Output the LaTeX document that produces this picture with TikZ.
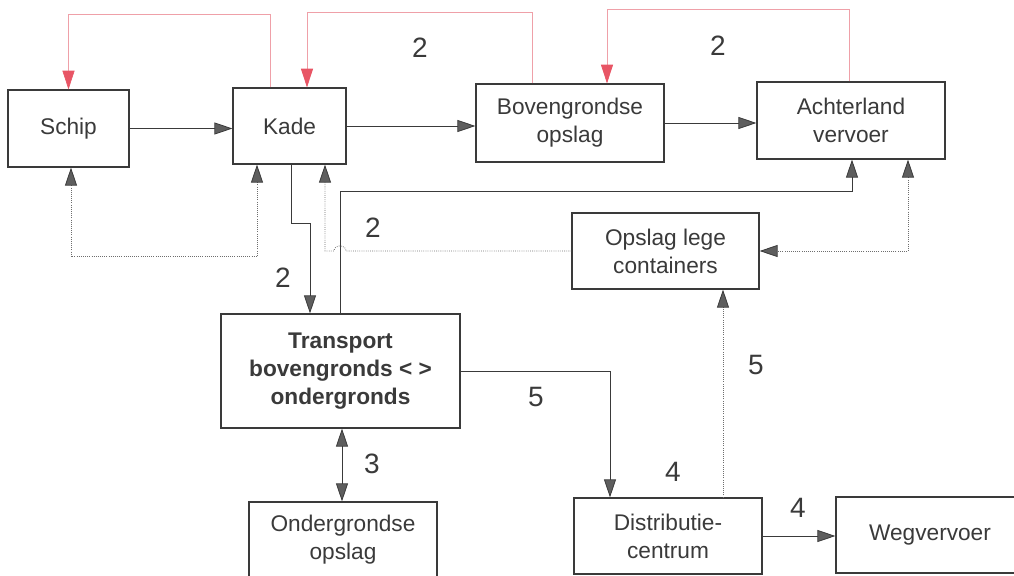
\documentclass[tikz,border=0pt]{standalone}
\usepackage{fontspec}
\setmainfont{Liberation Sans}
\usetikzlibrary{arrows.meta}

\definecolor{ink}{HTML}{3A3A3A}
\definecolor{tipgray}{HTML}{5E5E5E}
\definecolor{dotgray}{HTML}{6E6E6E}
\definecolor{linkred}{HTML}{EFA0A8}
\definecolor{tipred}{HTML}{E85565}

\tikzset{
  gtip/.tip={Triangle[length=13.5pt,width=9pt,color=ink,fill=tipgray]},
  rtip/.tip={Triangle[length=14pt,width=9pt,color=tipred,fill=tipred]},
  box/.style={draw=ink, line width=0.9pt, fill=white, inner sep=0pt,
    align=center, text=ink, font=\fontsize{17}{21}\selectfont},
  sized/.style 2 args={minimum width=#1*0.75pt, minimum height=#2*0.75pt},
  num/.style={text=ink, font=\fontsize{21}{24}\selectfont, inner sep=0pt},
  flow/.style={draw=ink, line width=0.6pt, -gtip},
  flowboth/.style={draw=ink, line width=0.6pt, gtip-gtip},
  back/.style={draw=dotgray, line width=0.6pt, densely dotted, -gtip},
  backboth/.style={draw=dotgray, line width=0.6pt, densely dotted, gtip-gtip},
  info/.style={draw=linkred, line width=0.5pt, -rtip},
}

\begin{document}
\begin{tikzpicture}[x=0.75pt,y=-0.75pt]
\useasboundingbox (0,0) rectangle (1014,575);

% terminal stages
\node[box, sized={121}{77}] (schip) at (68.5,128.5) {Schip};
\node[box, sized={113}{76}] (kade) at (289.5,126) {Kade};
\node[box, sized={188}{78}] (boven) at (570,123) {Bovengrondse\\opslag};
\node[box, sized={188}{77}] (achter) at (851,120.5) {Achterland\\vervoer};
\node[box, sized={187}{76}] (lege) at (665.5,251) {Opslag lege\\containers};
\node[box, sized={239}{114}] (transport) at (340.5,371)
  {\textbf{Transport}\\\textbf{bovengronds < >}\\\textbf{ondergronds}};
\node[box, sized={188}{76}] (onder) at (343,540) {Ondergrondse\\opslag};
\node[box, sized={188}{76}] (distr) at (668,536) {Distributie-\\centrum};
\node[box, sized={188}{76}] (weg) at (930,535) {Wegvervoer};

% main container flow
\draw[flow] (schip.east) -- (schip.east -| kade.west);
\draw[flow] (kade.east) -- (kade.east -| boven.west);
\draw[flow] (boven.east) -- (boven.east -| achter.west);
\draw[flow] (kade.south -| 291,0) -- ++(0,59) -| (transport.north -| 310,0);
\draw[flow] (transport.north -| 340,0) -- ++(0,-122) -| (achter.south -| 852,0);
\draw[flow] (transport.east) -| (distr.north -| 610,0);
\draw[flowboth] (transport.south -| 342,0) -- (onder.north -| 342,0);
\draw[flow] (distr.east) -- (distr.east -| weg.west);

% information flow (upstream)
\draw[info] (kade.north -| 270,0) -- ++(0,-73) -| (schip.north);
\draw[info] (boven.north -| 532,0) -- ++(0,-71) -| (kade.north -| 307,0);
\draw[info] (achter.north -| 849,0) -- ++(0,-72) -| (boven.north -| 607,0);

% empty container returns
\draw[backboth] (schip.south -| 71,0) -- ++(0,89) -| (kade.south -| 257,0);
\draw[back] (lege.west) -- (346,251)
  .. controls (346,244) and (334,244) .. (334,251)
  -- (325,251) -- (kade.south -| 325,0);
\draw[backboth] (achter.south -| 908,0) |- (lege.east);
\draw[back] (distr.north -| 723,0) -- (lege.south -| 723,0);

% flow numbers
\node[num] (n1) at (420,48) {2};
\node[num] (n2) at (718,46) {2};
\node[num] (n3) at (373,228) {2};
\node[num] (n4) at (283,278) {2};
\node[num] (n5) at (536,397) {5};
\node[num] (n6) at (756,365) {5};
\node[num] (n7) at (372,464) {3};
\node[num] (n8) at (673,472) {4};
\node[num] (n9) at (798,508) {4};
\end{tikzpicture}
\end{document}
